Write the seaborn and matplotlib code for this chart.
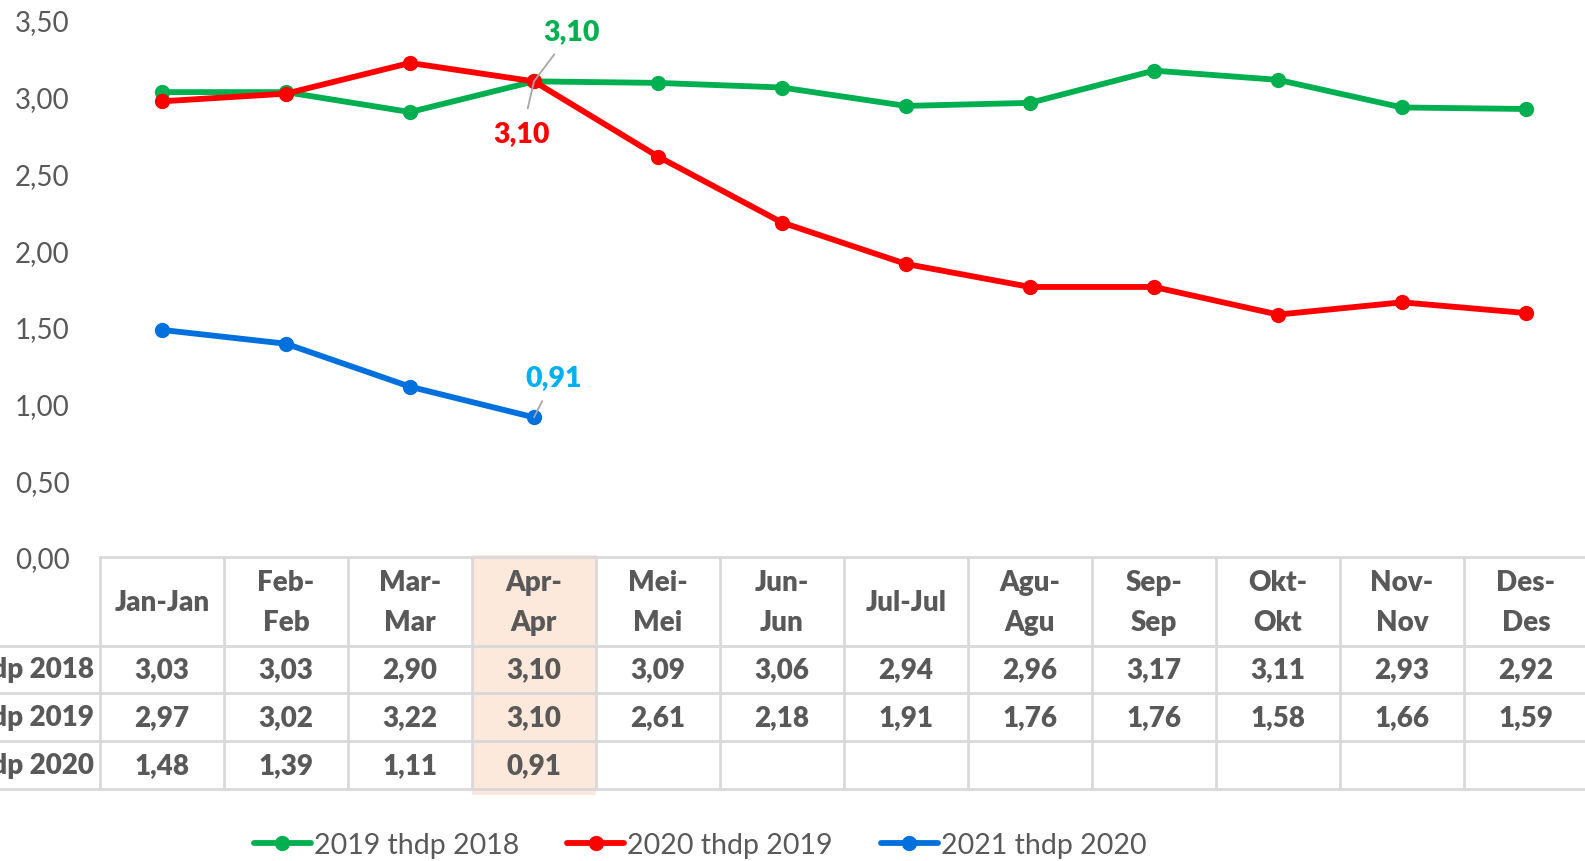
import matplotlib
matplotlib.use("Agg")
import matplotlib.pyplot as plt
import seaborn as sns
import numpy as np
import pandas as pd

months = ["Jan-Jan", "Feb-\nFeb", "Mar-\nMar", "Apr-\nApr", "Mei-\nMei", "Jun-\nJun",
          "Jul-Jul", "Agu-\nAgu", "Sep-\nSep", "Okt-\nOkt", "Nov-\nNov", "Des-\nDes"]
series_names = ["2019 thdp 2018", "2020 thdp 2019", "2021 thdp 2020"]
s2019 = [3.03, 3.03, 2.90, 3.10, 3.09, 3.06, 2.94, 2.96, 3.17, 3.11, 2.93, 2.92]
s2020 = [2.97, 3.02, 3.22, 3.10, 2.61, 2.18, 1.91, 1.76, 1.76, 1.58, 1.66, 1.59]
s2021 = [1.48, 1.39, 1.11, 0.91]
yticks = [0.0, 0.5, 1.0, 1.5, 2.0, 2.5, 3.0, 3.5]

colors = ["#00b050", "#ff0000", "#0070dd"]
label_colors = ["#00b050", "#ff0000", "#00b0f0"]
TXT = "#595959"
GRID = "#d9d9d9"

sns.set_theme(style="white")
plt.rcParams["font.family"] = ["Lato", "DejaVu Sans"]

W, H = 1585, 862
fig = plt.figure(figsize=(W / 100, H / 100), dpi=100)

# plot axes placed in pixel units
x0, x1 = 100, 1588
y_top, y_bot = 21, 558
ax = fig.add_axes([x0 / W, 1 - y_bot / H, (x1 - x0) / W, (y_bot - y_top) / H])

all_series = [s2019, s2020, s2021]
for name, vals, col in zip(series_names, all_series, colors):
    df = pd.DataFrame({"x": np.arange(len(vals)), "y": vals})
    sns.lineplot(data=df, x="x", y="y", ax=ax, color=col, linewidth=4.2,
                 marker="o", markersize=11, markeredgewidth=0, label=name,
                 legend=False)

ax.set_xlim(-0.5, 11.5)
ax.set_ylim(0, 3.5)
ax.set_yticks(yticks)
ax.set_yticklabels([f"{v:.2f}".replace(".", ",") for v in yticks])
ax.tick_params(axis="y", length=0, pad=22, labelsize=20, labelcolor=TXT)
ax.set_xticks([])
ax.set_xlabel("")
ax.set_ylabel("")
for sp in ax.spines.values():
    sp.set_visible(False)

# data labels for April
apr = 3
offsets = [(27, 36), (-8.6, -37), (14.4, 28.8)]
for vals, col, off in zip(all_series, label_colors, offsets):
    v = vals[apr]
    ax.annotate(f"{v:.2f}".replace(".", ","), xy=(apr, v), xytext=off,
                textcoords="offset points", ha="center", va="center",
                fontsize=20.5, fontweight="heavy", color=col,
                arrowprops=dict(arrowstyle="-", color="#a6a6a6", lw=1.3,
                                shrinkA=6, shrinkB=0))

# data table below the plot
t_top, t_bot = 552, 802
tax = fig.add_axes([x0 / W, 1 - t_bot / H, (x1 - x0) / W, (t_bot - t_top) / H])
tax.set_xlim(-0.5, 11.5)
tax.set_ylim(t_bot, t_top)
tax.axis("off")

rows_y = [558, 647, 694, 742, 790]
# highlighted April column
tax.fill_between([apr - 0.5, apr + 0.5], 556, 796, color="#fce9db", zorder=0,
                 linewidth=0)
for i, yy in enumerate(rows_y):
    xa = -0.5 if i == 0 else -1.5
    tax.plot([xa, 11.5], [yy, yy], color=GRID, lw=2, clip_on=False, zorder=1)
for k in range(13):
    tax.plot([k - 0.5, k - 0.5], [rows_y[0], rows_y[-1]], color=GRID, lw=2,
             clip_on=False, zorder=1)

for k, m in enumerate(months):
    tax.text(k, 603, m, ha="center", va="center", fontsize=20,
             fontweight="heavy", color=TXT, linespacing=1.7)

row_centers = [(rows_y[i] + rows_y[i + 1]) / 2 for i in range(1, 4)]
for name, vals, yy in zip(series_names, all_series, row_centers):
    tax.text(-0.55, yy, name, ha="right", va="center", fontsize=20,
             fontweight="heavy", color=TXT, clip_on=False)
    for k, v in enumerate(vals):
        tax.text(k, yy, f"{v:.2f}".replace(".", ","), ha="center", va="center",
                 fontsize=20, fontweight="heavy", color=TXT)

# legend
handles, labels = ax.get_legend_handles_labels()
fig.legend(handles, labels, loc="center", bbox_to_anchor=(700 / W, 1 - 846 / H),
           ncol=3, frameon=False, fontsize=20.5, labelcolor=TXT,
           handlelength=2.0, handletextpad=0.1, columnspacing=1.7)

fig.savefig("out.png", dpi=100)
